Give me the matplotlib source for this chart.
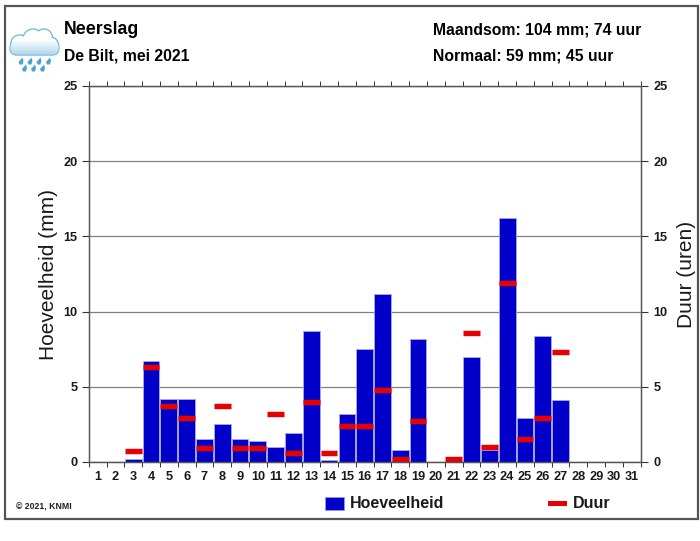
import numpy as np
import matplotlib
matplotlib.use('Agg')
import matplotlib.pyplot as plt
from matplotlib.colors import LinearSegmentedColormap
from matplotlib.patches import Rectangle, Ellipse, FancyBboxPatch, PathPatch
from matplotlib.path import Path

plt.rcParams['font.family'] = ['Liberation Sans', 'DejaVu Sans']

days = list(range(1, 32))
amount_mm = [0, 0, 0.2, 6.7, 4.2, 4.2, 1.5, 2.5, 1.5, 1.4, 1.0, 1.9, 8.7, 0.1, 3.2, 7.5,
             11.2, 0.8, 8.2, 0, 0, 7.0, 0.8, 16.2, 2.9, 8.4, 4.1, 0, 0, 0, 0]
duration_h = [np.nan, np.nan, 0.7, 6.3, 3.7, 2.9, 0.9, 3.7, 0.9, 0.9, 3.2, 0.6, 4.0, 0.6, 2.4, 2.4,
              4.8, 0.2, 2.7, np.nan, 0.2, 8.6, 1.0, 11.9, 1.5, 2.9, 7.3, np.nan, np.nan, np.nan, np.nan]
y_ticks = [0, 5, 10, 15, 20, 25]

BLUE = '#0000c8'
RED = '#e60000'
TEXT = '#1a1a1a'
W, H = 700, 541

fig = plt.figure(figsize=(7, 5.41), dpi=100)

# overlay in pixel coordinates for frame, titles, legend
bg = fig.add_axes([0, 0, 1, 1], zorder=3)
bg.axis('off')
bg.patch.set_alpha(0)

bg.add_patch(Rectangle((4.5, 5.5), 693, 513.5, fill=False, edgecolor='#555555', linewidth=1.6))
bg.text(64, 30, 'Neerslag', fontsize=12.8, fontweight='bold', va='center', color='black')
bg.text(64, 56, 'De Bilt, mei 2021', fontsize=11.3, fontweight='bold', va='center', color='black')
bg.text(433, 30, 'Maandsom: 104 mm; 74 uur', fontsize=11.3, fontweight='bold', va='center', color='black')
bg.text(433, 56, 'Normaal: 59 mm; 45 uur', fontsize=11.3, fontweight='bold', va='center', color='black')
bg.text(16, 507, '\u00a9 2021, KNMI', fontsize=6.3, fontweight='bold', va='center', color='#222222')

# legend
bg.add_patch(Rectangle((325, 497), 19, 13, facecolor=BLUE, edgecolor='#9999ee', linewidth=0.6))
bg.text(350, 503, 'Hoeveelheid', fontsize=11.5, fontweight='bold', va='center', color=TEXT)
bg.add_patch(Rectangle((547.5, 500.5), 19, 5.5, facecolor=RED, edgecolor='none'))
bg.text(573, 503, 'Duur', fontsize=11.5, fontweight='bold', va='center', color=TEXT)

# rain cloud icon: outlined lobes, white inside, gradient over the lower body
cloud_edge = '#72b8dc'
lobes = [(20, 43, 9, 8), (33, 39, 10, 10), (44, 38, 8.5, 9), (50, 45, 8.5, 8)]
for cx, cy, rx, ry in lobes:
    bg.add_patch(Ellipse((cx, cy), rx * 2, ry * 2, facecolor='white', edgecolor=cloud_edge, linewidth=1))
bg.add_patch(FancyBboxPatch((10, 41), 49, 14, boxstyle='round,pad=0,rounding_size=7',
                            facecolor='white', edgecolor=cloud_edge, linewidth=1))
for cx, cy, rx, ry in lobes:
    bg.add_patch(Ellipse((cx, cy), rx * 2 - 1.6, ry * 2 - 1.6, facecolor='white', edgecolor='none'))
bg.add_patch(Rectangle((14, 39), 41, 8, facecolor='white', edgecolor='none'))
cloud_cmap = LinearSegmentedColormap.from_list('cloud', ['#ffffff', '#b5d9ed'])
grad = bg.imshow(np.linspace(0, 1, 30).reshape(-1, 1), extent=(10, 59, 54.5, 40), aspect='auto',
                 cmap=cloud_cmap, zorder=2)
clip = FancyBboxPatch((10.5, 41), 48, 13.5, boxstyle='round,pad=0,rounding_size=6.5',
                      facecolor='none', edgecolor='none')
bg.add_patch(clip)
grad.set_clip_path(clip)
bg.set_xlim(0, W)
bg.set_ylim(H, 0)
drops = [(21, 61), (30, 61), (39, 61), (48.5, 61), (24.5, 68), (33.5, 68), (42.5, 68)]
for dx, dy in drops:
    verts = [(dx + 1.5, dy - 3.5), (dx - 2.5, dy + 1), (dx - 1.5, dy + 3.5), (dx + 1.5, dy + 3.5), (dx + 2.5, dy), (dx + 1.5, dy - 3.5)]
    codes = [Path.MOVETO, Path.LINETO, Path.LINETO, Path.LINETO, Path.LINETO, Path.CLOSEPOLY]
    bg.add_patch(PathPatch(Path(verts, codes), facecolor='#4da3d0', edgecolor='none', zorder=3))

# main chart
ax = fig.add_axes([88.7 / W, 1 - 462 / H, (640.7 - 88.7) / W, (462 - 86) / H])
ax.bar(days, amount_mm, width=0.94, color=BLUE, edgecolor='#a8a8f0', linewidth=0.6, zorder=2)
ax.hlines(duration_h, np.array(days) - 0.47, np.array(days) + 0.47, color=RED, linewidth=3.9, zorder=3)

ax.set_xlim(0.5, 31.5)
ax.set_ylim(0, 25)
ax.set_yticks(y_ticks)
ax.grid(axis='y', color='#808080', linewidth=0.9, zorder=1)
ax.set_axisbelow(True)

# day labels sit on the bar centres, tick marks on the bar edges
ax.set_xticks(days)
ax.set_xticks(np.arange(0.5, 32, 1), minor=True)
ax.tick_params(axis='x', which='major', length=0, pad=6.5, labelsize=9.2)
ax.tick_params(axis='x', which='minor', length=3.5, width=0.7, color='#333333', top=True, bottom=True)
ax.tick_params(axis='y', length=5, width=0.8, color='#333333', labelsize=9.2, pad=3, left=True, right=True)
for lab in ax.get_xticklabels() + ax.get_yticklabels():
    lab.set_fontweight('bold')
    lab.set_color(TEXT)
for spine in ax.spines.values():
    spine.set_linewidth(0.9)
    spine.set_color('#555555')
ax.set_ylabel('Hoeveelheid (mm)', fontsize=15, color=TEXT)
ax.yaxis.set_label_coords((58 - 88.7) / (640.7 - 88.7), 0.5)

ax2 = ax.twinx()
ax2.set_ylim(0, 25)
ax2.set_yticks(y_ticks)
ax2.tick_params(axis='y', length=5, width=0.8, color='#333333', labelsize=9.2, pad=4)
for lab in ax2.get_yticklabels():
    lab.set_fontweight('bold')
    lab.set_color(TEXT)
for spine in ax2.spines.values():
    spine.set_linewidth(0.9)
    spine.set_color('#555555')
ax2.set_ylabel('Duur (uren)', fontsize=15, color=TEXT)
ax2.yaxis.set_label_coords((677 - 88.7) / (640.7 - 88.7), 0.5)

fig.savefig('out.png', dpi=100)
